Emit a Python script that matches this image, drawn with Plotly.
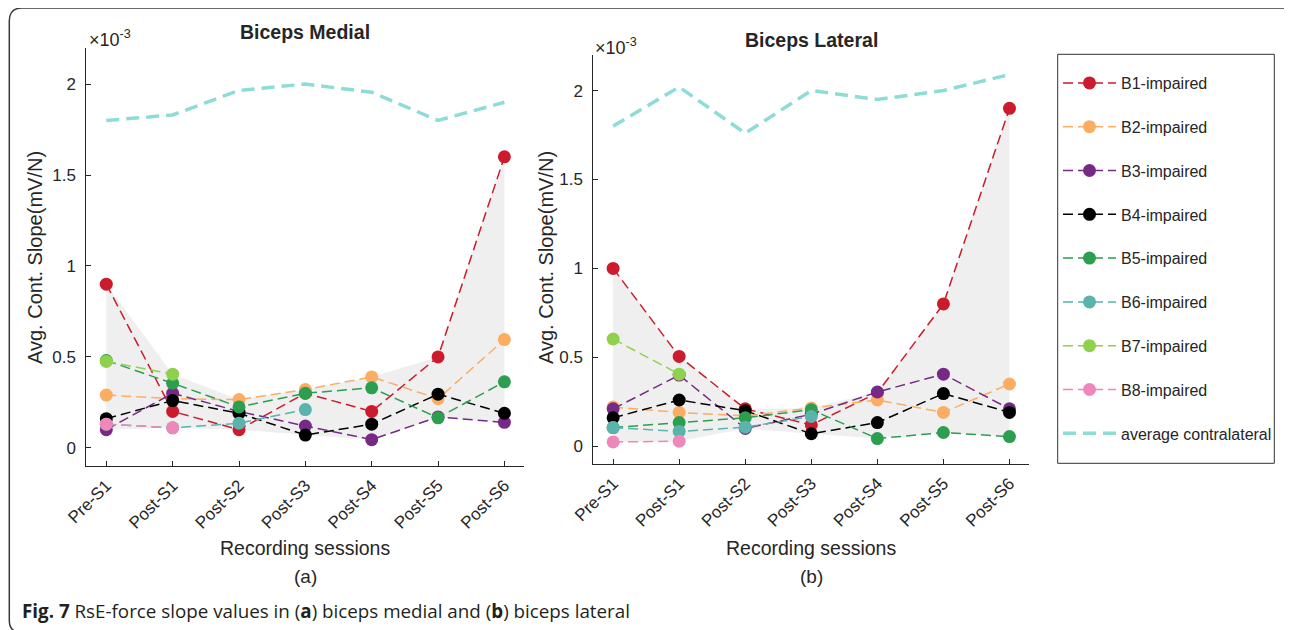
import numpy as np
import plotly.graph_objects as go

W, H = 1292, 630
OFF = 8  # page margin of the browser

sessions = ["Pre-S1", "Post-S1", "Post-S2", "Post-S3", "Post-S4", "Post-S5", "Post-S6"]
names = ["B1-impaired", "B2-impaired", "B3-impaired", "B4-impaired",
         "B5-impaired", "B6-impaired", "B7-impaired", "B8-impaired"]
colors = ["#CB1B2C", "#FDAD62", "#772A85", "#000000",
          "#2B9E50", "#5AB3AC", "#8FD14D", "#EE88BA"]
avg_color = "#8EDCD6"

# values in units of 1e-3 mV/N, None = no measurement
medial = [
    [0.90, 0.20, 0.10, 0.30, 0.20, 0.50, 1.60],
    [0.29, 0.27, 0.265, 0.32, 0.39, 0.27, 0.595],
    [0.10, 0.30, 0.20, 0.12, 0.045, 0.17, 0.14],
    [0.16, 0.26, 0.19, 0.07, 0.13, 0.295, 0.19],
    [0.48, 0.355, 0.225, 0.30, 0.33, 0.165, 0.363],
    [0.13, 0.11, 0.135, 0.21, None, None, None],
    [0.475, 0.405, None, None, None, None, None],
    [0.13, 0.11, None, None, None, None, None],
]
medial_avg = [1.80, 1.83, 1.965, 2.00, 1.955, 1.80, 1.90]

lateral = [
    [1.00, 0.505, 0.21, 0.12, 0.30, 0.80, 1.90],
    [0.22, 0.19, 0.17, 0.215, 0.26, 0.19, 0.35],
    [0.21, 0.40, 0.10, 0.18, 0.305, 0.405, 0.21],
    [0.16, 0.26, 0.20, 0.07, 0.133, 0.296, 0.19],
    [0.105, 0.133, 0.16, 0.205, 0.043, 0.077, 0.054],
    [0.105, 0.083, 0.107, 0.167, None, None, None],
    [0.603, 0.405, None, None, None, None, None],
    [0.024, 0.028, None, None, None, None, None],
]
lateral_avg = [1.80, 2.02, 1.76, 2.00, 1.95, 2.00, 2.09]

AXC = "#262626"
FONT = "Liberation Sans, Arial, sans-serif"


def px(x):
    return (x - OFF) / W


def py(y):
    return 1 - (y - OFF) / H


fig = go.Figure()


def add_panel(data, avg, xa, ya, legend):
    arr = np.array([[np.nan if v is None else v for v in row] for row in data])
    hi = np.nanmax(arr, axis=0)
    lo = np.nanmin(arr, axis=0)
    fig.add_trace(go.Scatter(x=sessions + sessions[::-1],
                             y=list(hi) + list(lo[::-1]),
                             fill="toself", fillcolor="#EFEFEF",
                             line=dict(width=0), mode="lines",
                             hoverinfo="skip", showlegend=False,
                             xaxis=xa, yaxis=ya))
    for name, col, row in zip(names, colors, data):
        fig.add_trace(go.Scatter(x=sessions, y=row, name=name,
                                 mode="lines+markers",
                                 line=dict(color=col, width=1.5, dash="10px,5px"),
                                 marker=dict(color=col, size=13, line=dict(width=0)),
                                 legendgroup=name, showlegend=legend,
                                 xaxis=xa, yaxis=ya))
    fig.add_trace(go.Scatter(x=sessions, y=avg, name="average contralateral",
                             mode="lines",
                             line=dict(color=avg_color, width=3.5, dash="13px,7px"),
                             legendgroup="avg", showlegend=legend,
                             xaxis=xa, yaxis=ya))


add_panel(medial, medial_avg, "x", "y", True)
add_panel(lateral, lateral_avg, "x2", "y2", False)

xaxis_style = dict(type="category", categoryarray=sessions, range=[-0.3, 6.3],
                   showline=True, linecolor=AXC, linewidth=1, mirror=False,
                   ticks="inside", ticklen=5, tickcolor=AXC, tickangle=-45,
                   showgrid=False, zeroline=False, ticklabelstandoff=2,
                   tickfont=dict(family=FONT, size=17, color=AXC))
yaxis_style = dict(range=[-0.1, 2.2], tickvals=[0, 0.5, 1, 1.5, 2],
                   ticktext=["0", "0.5", "1", "1.5", "2"],
                   showline=True, linecolor=AXC, linewidth=1,
                   ticks="inside", ticklen=5, tickcolor=AXC,
                   showgrid=False, zeroline=False, ticklabelstandoff=6,
                   tickfont=dict(family=FONT, size=17, color=AXC))

fig.update_layout(
    width=W, height=H,
    margin=dict(l=0, r=0, t=0, b=0, autoexpand=False),
    paper_bgcolor="white", plot_bgcolor="white",
    font=dict(family=FONT, color=AXC),
    xaxis=dict(domain=[px(86.4), px(524.3)], anchor="y", **xaxis_style),
    yaxis=dict(domain=[py(466), py(47.7)], anchor="x", **yaxis_style),
    xaxis2=dict(domain=[px(593.3), px(1029.3)], anchor="y2", **xaxis_style),
    yaxis2=dict(domain=[py(464), py(55)], anchor="x2", **yaxis_style),
    legend=dict(x=px(1058), y=py(66), xanchor="left", yanchor="top",
                borderwidth=0, bgcolor="rgba(0,0,0,0)",
                font=dict(family=FONT, size=16, color="#262626"),
                tracegroupgap=20, itemwidth=53),
    showlegend=True,
)

annotations = [
    (304.6, 32, "<b>Biceps Medial</b>", 19.5, 0),
    (811, 40, "<b>Biceps Lateral</b>", 19.5, 0),
    (110, 38, "×10<sup>-3</sup>", 18, 0),
    (616, 46, "×10<sup>-3</sup>", 18, 0),
    (305, 548, "Recording sessions", 19.5, 0),
    (811, 548, "Recording sessions", 19.5, 0),
    (305, 576, "(a)", 19, 0),
    (811, 576, "(b)", 19, 0),
    (35, 258, "Avg. Cont. Slope(mV/N)", 20, -90),
    (546, 258, "Avg. Cont. Slope(mV/N)", 20, -90),
]
for x, y, text, size, ang in annotations:
    fig.add_annotation(x=px(x), y=py(y), xref="paper", yref="paper", text=text,
                       showarrow=False, textangle=ang, xanchor="center", yanchor="middle",
                       font=dict(family=FONT, size=size, color=AXC))

fig.add_annotation(x=px(20), y=py(611), xref="paper", yref="paper",
                   text="<b>Fig. 7</b> RsE-force slope values in (<b>a</b>) biceps medial and (<b>b</b>) biceps lateral",
                   showarrow=False, xanchor="left", yanchor="middle",
                   font=dict(family="Open Sans, sans-serif", size=18.8, color="#231F20"))

# legend box
fig.add_shape(type="rect", xref="paper", yref="paper",
              x0=px(1057.7), x1=px(1274.3), y0=py(463.3), y1=py(54.3),
              line=dict(color="#333333", width=1))

# rounded frame around the figure
fig.add_shape(type="path", xref="paper", yref="paper",
              path="M {},{} Q {},{} {},{} L {},{} Q {},{} {},{} L {},{} Q {},{} {},{}".format(
                  px(1292), py(18), px(1292), py(8), px(1282), py(8),
                  px(22), py(8), px(9.3), py(8), px(9.3), py(21),
                  px(9.3), py(620), px(9.3), py(632), px(20), py(632)),
              line=dict(color="#3A3A3A", width=1.5))

fig.write_html("out.html")
